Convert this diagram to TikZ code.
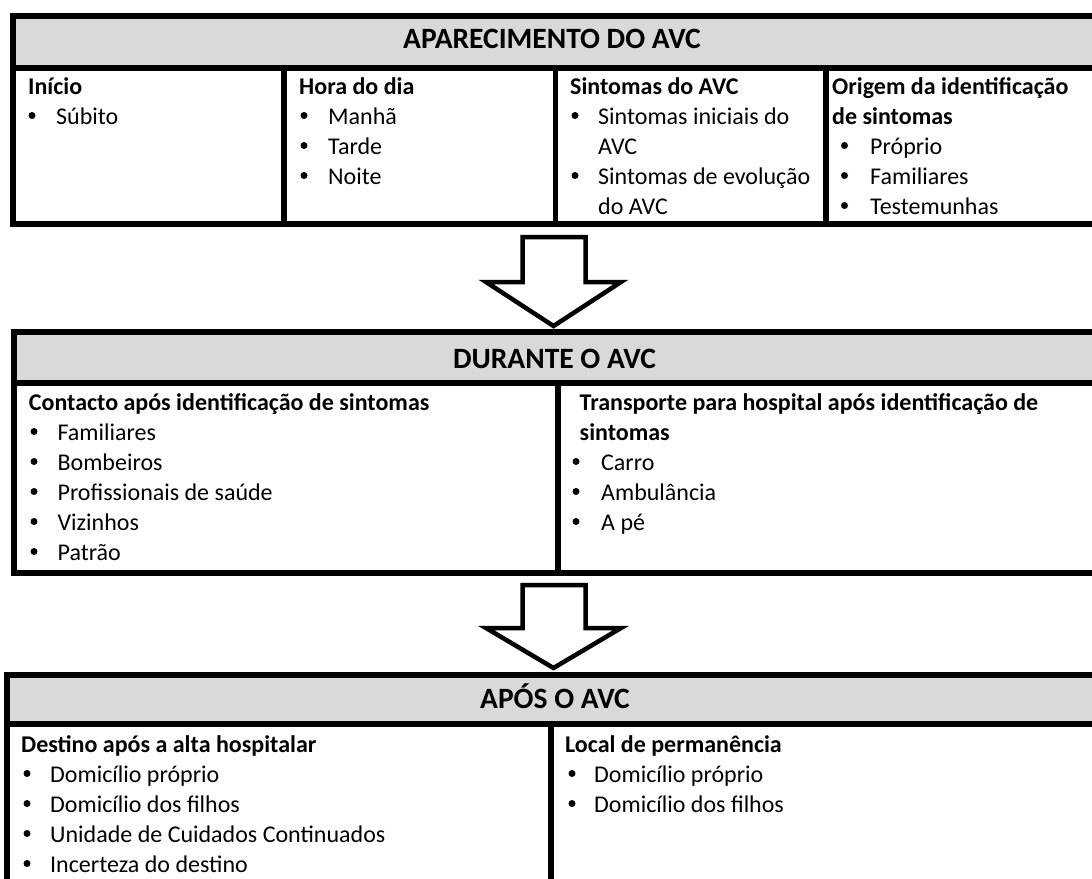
\documentclass[tikz,border=0pt]{standalone}
\usepackage{fontspec}
\setmainfont{Carlito}
\definecolor{hdrgray}{HTML}{D9D9D9}
\tikzset{
  frame/.style={line width=5.5bp, line join=miter, line cap=rect},
  hdr/.style={font=\fontsize{29.5bp}{35bp}\selectfont\bfseries, inner sep=0pt, anchor=base},
  ttl/.style={font=\fontsize{24bp}{29bp}\selectfont\bfseries, inner sep=0pt, anchor=base west},
  itm/.style={font=\fontsize{24bp}{29bp}\selectfont, inner sep=0pt, anchor=base west},
  bul/.style={fill=black, circle, inner sep=0pt, minimum size=7bp},
  blockarrow/.style={line width=4.5bp, line join=miter, fill=white}
}
\newcommand\bitem[5]{\node[bul] (#1b) at (#2,#4-8.5) {}; \node[itm] (#1) at (#3,#4) {#5};}
\begin{document}
\begin{tikzpicture}[x=1bp,y=-1bp]
\useasboundingbox (0,0) rectangle (1092,879);
\clip (0,0) rectangle (1092,879);
\fill[white] (0,0) rectangle (1092,879);

% ---------- Box 1 ----------
\fill[hdrgray] (13,16) rectangle (1100,68);
\draw[frame] (1100,16) -- (13,16) -- (13,224) -- (1100,224);
\draw[frame] (13,68) -- (1100,68);
\draw[frame] (284,68) -- (284,224);
\draw[frame] (555.5,68) -- (555.5,224);
\draw[frame] (826,68) -- (826,224);
\node[hdr] (h1) at (552,48) {APARECIMENTO DO AVC};

\node[ttl] (t11) at (28,94) {Início};
\bitem{i111}{32}{56}{124}{Súbito}

\node[ttl] (t12) at (299,94) {Hora do dia};
\bitem{i121}{304}{328}{124}{Manhã}
\bitem{i122}{304}{328}{154}{Tarde}
\bitem{i123}{304}{328}{184}{Noite}

\node[ttl] (t13) at (570,94) {Sintomas do AVC};
\bitem{i131}{575}{598}{124}{Sintomas iniciais do}
\node[itm] (i131c) at (598,154) {AVC};
\bitem{i132}{575}{598}{184}{Sintomas de evolução}
\node[itm] (i132c) at (598,214) {do AVC};

\node[ttl] (t14) at (832,94) {Origem da identificação};
\node[ttl] (t14c) at (832,124) {de sintomas};
\bitem{i141}{844.5}{870}{154}{Próprio}
\bitem{i142}{844.5}{870}{184}{Familiares}
\bitem{i143}{844.5}{870}{214}{Testemunhas}

% ---------- Arrow 1 ----------
\draw[blockarrow] (522.5,237) -- (585.5,237) -- (585.5,282) -- (621,282)
  -- (553.5,326) -- (486,282) -- (522.5,282) -- cycle;

% ---------- Box 2 ----------
\fill[hdrgray] (14,332) rectangle (1100,383);
\draw[frame] (1100,332) -- (14,332) -- (14,573) -- (1100,573);
\draw[frame] (14,383) -- (1100,383);
\draw[frame] (558,383) -- (558,573);
\node[hdr] (h2) at (554.5,368) {DURANTE O AVC};

\node[ttl] (t21) at (28.7,410) {Contacto após identificação de sintomas};
\bitem{i211}{34}{57.4}{440}{Familiares}
\bitem{i212}{34}{57.4}{470}{Bombeiros}
\bitem{i213}{34}{57.4}{500}{Profissionais de saúde}
\bitem{i214}{34}{57.4}{530}{Vizinhos}
\bitem{i215}{34}{57.4}{560}{Patrão}

\node[ttl] (t22) at (579.5,410) {Transporte para hospital após identificação de};
\node[ttl] (t22c) at (579.5,440) {sintomas};
\bitem{i221}{576}{601}{470}{Carro}
\bitem{i222}{576}{601}{500}{Ambulância}
\bitem{i223}{576}{601}{530}{A pé}

% ---------- Arrow 2 ----------
\draw[blockarrow] (522.5,585) -- (585.5,585) -- (585.5,628) -- (621,628)
  -- (553.5,668) -- (486,628) -- (522.5,628) -- cycle;

% ---------- Box 3 ----------
\fill[hdrgray] (7,675) rectangle (1100,724);
\draw[frame] (1100,675) -- (7,675) -- (7,900);
\draw[frame] (7,724) -- (1100,724);
\draw[frame] (551,724) -- (551,900);
\node[hdr] (h3) at (555,708) {APÓS O AVC};

\node[ttl] (t31) at (21,752) {Destino após a alta hospitalar};
\bitem{i311}{27}{50}{782}{Domicílio próprio}
\bitem{i312}{27}{50}{812}{Domicílio dos filhos}
\bitem{i313}{27}{50}{842}{Unidade de Cuidados Continuados}
\bitem{i314}{27}{50}{872}{Incerteza do destino}

\node[ttl] (t32) at (565,752) {Local de permanência};
\bitem{i321}{572}{594}{782}{Domicílio próprio}
\bitem{i322}{572}{594}{812}{Domicílio dos filhos}
\end{tikzpicture}
\end{document}
